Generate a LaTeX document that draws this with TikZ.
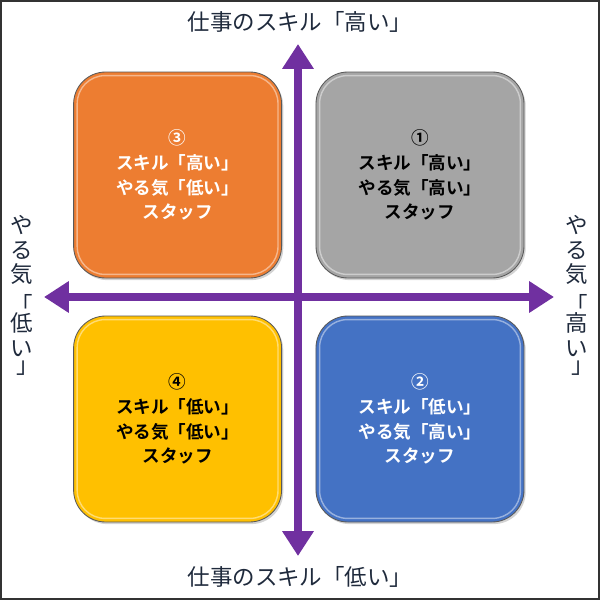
\documentclass[tikz,border=0pt]{standalone}
\usepackage{fontspec}
\setmainfont{Noto Sans CJK JP}[BoldFont={Noto Sans CJK JP Bold}]
\usepackage{tikz}
\usetikzlibrary{arrows.meta,shadows,calc}

\definecolor{axispurple}{HTML}{7030A0}
\definecolor{boxorange}{HTML}{ED7D31}
\definecolor{boxgray}{HTML}{A5A5A5}
\definecolor{boxyellow}{HTML}{FFC000}
\definecolor{boxblue}{HTML}{4472C4}
\definecolor{labelnavy}{HTML}{1F2A3C}

\newcommand{\openq}{\smash{\raisebox{-0.3em}{「}}}
\newcommand{\closeq}{\smash{\raisebox{0.3em}{\hspace{0.5em}」}}}

\tikzset{
  quad/.style={rounded corners=0.8cm, minimum width=5.2cm, minimum height=5.15cm,
    draw=black!65, line width=0.6pt, align=center,
    font=\bfseries\fontsize{12.5}{17.6}\selectfont,
    drop shadow={shadow xshift=1.2pt,shadow yshift=-1.5pt,opacity=.35}},
  axis/.style={axispurple, line width=0.2cm,
    {Triangle[width=7.5mm,length=6.2mm]}-{Triangle[width=7.5mm,length=6.2mm]}},
  axislabel/.style={labelnavy, font=\fontsize{16}{18}\selectfont},
  vlabel/.style={axislabel, align=center, font=\fontsize{16}{17.4}\selectfont}
}

\begin{document}
\begin{tikzpicture}
\useasboundingbox (-7.5,-7.5) rectangle (7.5,7.5);
\draw[black!80,line width=1.2pt] (-7.48,-7.48) rectangle (7.48,7.48);

\node[quad,fill=boxgray,text=black] (q1) at (3.0,3.125) {①\\スキル「高い」\\やる気「高い」\\スタッフ};
\node[quad,fill=boxblue,text=white] (q2) at (3.0,-2.975) {②\\スキル「低い」\\やる気「高い」\\スタッフ};
\node[quad,fill=boxorange,text=white] (q3) at (-3.06,3.125) {③\\スキル「高い」\\やる気「低い」\\スタッフ};
\node[quad,fill=boxyellow,text=black] (q4) at (-3.06,-2.975) {④\\スキル「低い」\\やる気「低い」\\スタッフ};
\foreach \q in {q1,q2,q3,q4}
  \draw[white,opacity=.45,line width=1pt,rounded corners=0.7cm]
    ($(\q.south west)+(0.1,0.1)$) rectangle ($(\q.north east)-(0.1,0.1)$);

\coordinate (top) at (-0.05,6.4);
\coordinate (bottom) at (-0.05,-6.4);
\coordinate (left) at (-6.4,0.075);
\coordinate (right) at (6.35,0.075);
\draw[axis] (bottom) -- (top);
\draw[axis] (left) -- (right);

\node[axislabel] (skillhigh) at (0,6.95) {仕事のスキル「高い」};
\node[axislabel] (skilllow) at (0,-6.925) {仕事のスキル「低い」};
\node[vlabel] (motivlow) at (-6.95,0.05) {や\\る\\気\\\openq\\低\\い\\\closeq};
\node[vlabel] (motivhigh) at (6.925,0.05) {や\\る\\気\\\openq\\高\\い\\\closeq};
\end{tikzpicture}
\end{document}
